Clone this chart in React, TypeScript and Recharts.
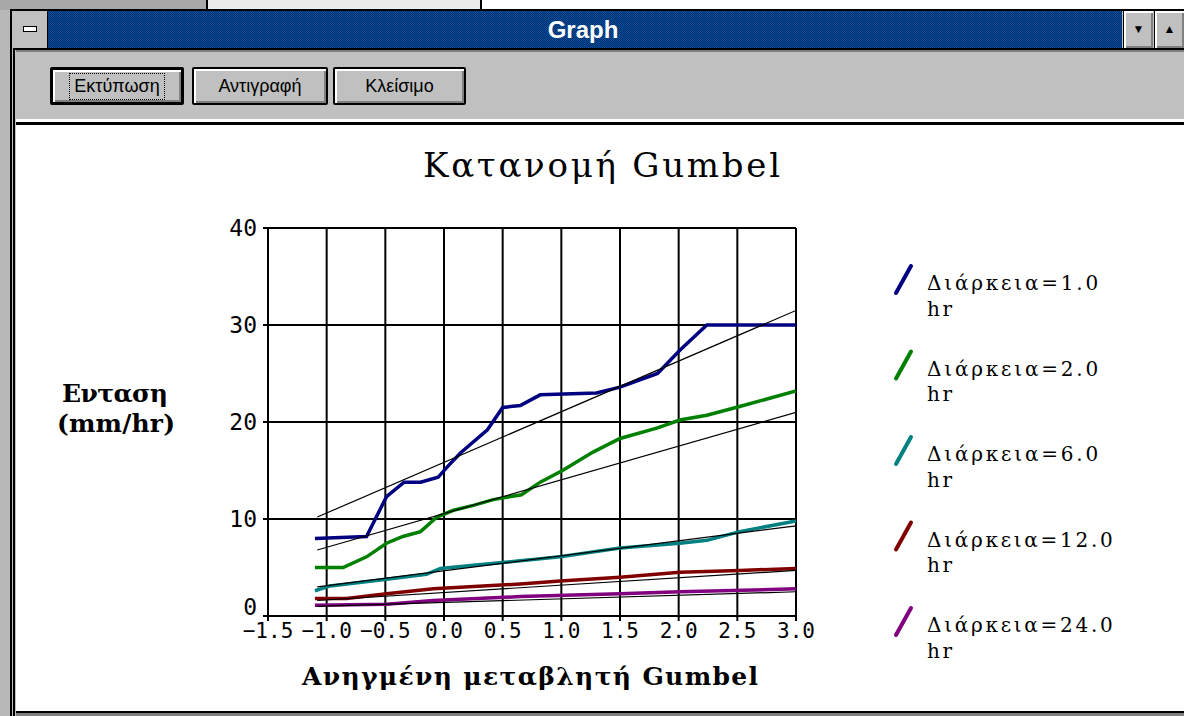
import React from "react";
import { LineChart, Line, XAxis, YAxis, CartesianGrid } from "recharts";

// Gumbel reduced variate (x) vs rainfall intensity in mm/hr (y), one set per duration
const durations = ["1.0", "2.0", "6.0", "12.0", "24.0"];
const colors = ["#000080", "#008000", "#008080", "#800000", "#800080"];

const x1 = [-1.1, -0.66, -0.49, -0.34, -0.2, -0.05, 0.03, 0.14, 0.37, 0.5, 0.65, 0.82, 1.3, 1.5, 1.82, 2.01, 2.24, 3.0];
const y1 = [8.0, 8.2, 12.3, 13.8, 13.8, 14.3, 15.4, 16.8, 19.2, 21.5, 21.7, 22.8, 23.0, 23.6, 25.0, 27.4, 30.0, 30.0];

const x2 = [-1.1, -0.86, -0.66, -0.49, -0.35, -0.2, -0.06, 0.08, 0.25, 0.42, 0.66, 0.82, 1.01, 1.27, 1.5, 1.82, 2.01, 2.24, 2.52, 3.0];
const y2 = [5.0, 5.0, 6.1, 7.5, 8.2, 8.7, 10.2, 10.9, 11.4, 12.0, 12.5, 13.8, 15.0, 16.9, 18.3, 19.4, 20.2, 20.7, 21.6, 23.2];

const x3 = [-1.1, -0.97, -0.49, -0.15, -0.03, 0.65, 0.99, 1.5, 2.01, 2.24, 2.52, 3.0];
const y3 = [2.6, 3.1, 3.8, 4.3, 4.9, 5.7, 6.1, 7.0, 7.5, 7.8, 8.7, 9.8];

const x4 = [-1.1, -0.83, -0.49, -0.09, 0.65, 0.99, 1.5, 2.01, 2.52, 3.0];
const y4 = [1.8, 1.8, 2.3, 2.8, 3.3, 3.6, 4.0, 4.5, 4.7, 4.9];

const x5 = [-1.1, -0.49, -0.09, 0.65, 1.5, 2.01, 3.0];
const y5 = [1.1, 1.2, 1.6, 2.0, 2.3, 2.5, 2.8];

// fitted straight lines (start / end)
const fitX = [-1.08, 3.0];
const fitY1 = [10.2, 31.5];
const fitY2 = [6.8, 21.0];
const fitY3 = [3.0, 9.3];
const fitY4 = [1.6, 4.7];
const fitY5 = [1.0, 2.5];

const xTicks = [-1.5, -1.0, -0.5, 0.0, 0.5, 1.0, 1.5, 2.0, 2.5, 3.0];
const yTicks = [0, 10, 20, 30, 40];

const toPoints = (xs: number[], ys: number[]) => xs.map((x, i) => ({ x, y: ys[i] }));

const series = [
  toPoints(x1, y1),
  toPoints(x2, y2),
  toPoints(x3, y3),
  toPoints(x4, y4),
  toPoints(x5, y5),
];
const fits = [fitY1, fitY2, fitY3, fitY4, fitY5].map((ys) => toPoints(fitX, ys));

const fmtX = (v: number) => (v < 0 ? "\u2212" : "") + Math.abs(v).toFixed(1);

const serif = "'DejaVu Serif', 'Liberation Serif', serif";
const sansMono = "'DejaVu Sans Mono', monospace";
const ui = "'Liberation Sans', Arial, sans-serif";

// y tick; the "0" sits a bit higher so it clears the x labels
const YTick = (props: any) => {
  const { x, y, payload } = props;
  const lift = payload.value === 0 ? -9 : 0;
  return (
    <text x={x} y={y + lift} textAnchor="end" dominantBaseline="central" fill="#000" fontFamily={sansMono} fontSize={23}>
      {payload.value}
    </text>
  );
};

function Button({ left, width, label, isDefault }: { left: number; width: number; label: string; isDefault?: boolean }) {
  return (
    <div
      style={{
        position: "absolute",
        left,
        top: 67,
        width,
        height: 38,
        boxSizing: "border-box",
        border: isDefault ? "3px solid #000" : "2px solid #000",
        borderRadius: 2,
        background: "#c0c0c0",
        boxShadow: "inset 2px 2px 0 #fff, inset -2px -2px 0 #808080",
        display: "flex",
        alignItems: "center",
        justifyContent: "center",
        fontFamily: ui,
        fontSize: 18,
        color: "#000",
      }}
    >
      <span style={isDefault ? { outline: "1px dotted #000", outlineOffset: 2, padding: "0 2px" } : undefined}>{label}</span>
    </div>
  );
}

export default function App() {
  return (
    <div
      style={{
        position: "fixed",
        left: 0,
        top: 0,
        width: 1184,
        height: 716,
        overflow: "hidden",
        background: "#fff",
      }}
    >
      {/* background windows peeking out */}
      <div style={{ position: "absolute", left: 0, top: 0, width: 206, height: 10, background: "#a8a8a8" }} />
      <div style={{ position: "absolute", left: 206, top: 0, width: 272, height: 10, background: "#ececec", borderLeft: "2px solid #000", borderRight: "2px solid #000" }} />
      <div style={{ position: "absolute", left: 0, top: 10, width: 10, height: 706, background: "#b8b8b8", borderRight: "1px solid #000" }} />

      {/* window frame */}
      <div style={{ position: "absolute", left: 10, top: 9, width: 1174, height: 707, background: "#c0c0c0", borderTop: "2px solid #000", borderLeft: "2px solid #000", boxSizing: "border-box" }} />

      {/* title bar */}
      <div style={{ position: "absolute", left: 13, top: 11, width: 34, height: 37, background: "#c0c0c0", borderRight: "1px solid #000" }}>
        <div style={{ position: "absolute", left: 10, top: 15, width: 12, height: 4, background: "#fff", border: "1px solid #000" }} />
      </div>
      <div
        style={{
          position: "absolute",
          left: 48,
          top: 11,
          width: 1074,
          height: 37,
          background: "repeating-conic-gradient(#002c70 0 25%, #08509a 0 50%) 0 0 / 2px 2px",
          color: "#fff",
          fontFamily: ui,
          fontWeight: "bold",
          fontSize: 24,
          lineHeight: "37px",
          textAlign: "center",
        }}
      >
        <span style={{ position: "relative", left: -2 }}>Graph</span>
      </div>
      {[1123, 1154].map((left, i) => (
        <div
          key={left}
          style={{
            position: "absolute",
            left,
            top: 11,
            width: 30,
            height: 37,
            boxSizing: "border-box",
            background: "#c0c0c0",
            borderLeft: "1px solid #000",
            boxShadow: "inset 2px 2px 0 #fff, inset -2px -2px 0 #808080",
            display: "flex",
            alignItems: "center",
            justifyContent: "center",
            fontSize: 12,
            color: "#000",
          }}
        >
          {i === 0 ? "\u25BC" : "\u25B2"}
        </div>
      ))}
      <div style={{ position: "absolute", left: 13, top: 48, width: 1171, height: 2, background: "#000" }} />

      {/* toolbar */}
      <div style={{ position: "absolute", left: 16, top: 50, width: 1168, height: 72, background: "#c0c0c0", borderTop: "2px solid #808080", borderBottom: "3px solid #fff", boxSizing: "border-box" }} />
      <div style={{ position: "absolute", left: 13, top: 50, width: 2, height: 666, background: "#000" }} />
      <Button left={50} width={134} label="Εκτύπωση" isDefault />
      <Button left={192} width={136} label="Αντιγραφή" />
      <Button left={333} width={133} label="Κλείσιμο" />
      <div style={{ position: "absolute", left: 16, top: 122, width: 1168, height: 3, background: "#000" }} />

      {/* client area */}
      <div style={{ position: "absolute", left: 16, top: 125, width: 1168, height: 586, background: "#fff" }} />
      <div style={{ position: "absolute", left: 16, top: 711, width: 1168, height: 2, background: "#000" }} />
      <div style={{ position: "absolute", left: 16, top: 713, width: 1168, height: 3, background: "#808080" }} />

      {/* chart */}
      <div style={{ position: "absolute", left: 0, top: 0 }}>
        <LineChart width={1184} height={716} margin={{ top: 228, right: 388, bottom: 60, left: 0 }}>
          <CartesianGrid stroke="#000" strokeWidth={2} />
          <XAxis
            dataKey="x"
            type="number"
            domain={[-1.5, 3]}
            ticks={xTicks}
            tickFormatter={fmtX}
            allowDataOverflow
            height={40}
            stroke="#000"
            strokeWidth={2}
            tickSize={5}
            tickMargin={2}
            tick={{ fill: "#000", fontFamily: sansMono, fontSize: 21 }}
          />
          <YAxis
            dataKey="y"
            type="number"
            domain={[0, 40]}
            ticks={yTicks}
            width={268}
            stroke="#000"
            strokeWidth={2}
            tickSize={5}
            tickMargin={6}
            tick={<YTick />}
          />
          {series.map((d, i) => (
            <Line
              key={"s" + i}
              data={d}
              dataKey="y"
              name={"Διάρκεια=" + durations[i] + " hr"}
              stroke={colors[i]}
              strokeWidth={3.5}
              dot={false}
              type="linear"
              isAnimationActive={false}
            />
          ))}
          {fits.map((d, i) => (
            <Line
              key={"f" + i}
              data={d}
              dataKey="y"
              stroke="#000"
              strokeWidth={1.2}
              dot={false}
              type="linear"
              legendType="none"
              isAnimationActive={false}
            />
          ))}
        </LineChart>
      </div>

      {/* titles and legend */}
      <svg width={1184} height={716} style={{ position: "absolute", left: 0, top: 0, pointerEvents: "none" }}>
        <text x={423} y={177} textLength={357} lengthAdjust="spacing" fontFamily={serif} fontSize={34} fill="#000">
          Κατανομή Gumbel
        </text>
        <text x={62} y={402} textLength={106} lengthAdjust="spacing" fontFamily={serif} fontWeight="bold" fontSize={25} fill="#000">
          Ενταση
        </text>
        <text x={57} y={432} textLength={118} lengthAdjust="spacing" fontFamily={serif} fontWeight="bold" fontSize={25} fill="#000">
          (mm/hr)
        </text>
        <text x={302} y={685} textLength={456} lengthAdjust="spacing" fontFamily={serif} fontWeight="bold" fontSize={25} fill="#000">
          Ανηγμένη μεταβλητή Gumbel
        </text>
        {durations.map((d, i) => {
          const base = 290 + i * 85.5;
          const label = "Διάρκεια=" + d;
          return (
            <g key={d}>
              <line x1={896} y1={base + 3} x2={911} y2={base - 24} stroke={colors[i]} strokeWidth={4} strokeLinecap="round" />
              <text x={927} y={base} textLength={label.length * 14.6 - 4} lengthAdjust="spacing" fontFamily={serif} fontSize={20} fill="#000">
                {label}
              </text>
              <text x={927} y={base + 25.5} textLength={25} lengthAdjust="spacing" fontFamily={serif} fontSize={20} fill="#000">
                hr
              </text>
            </g>
          );
        })}
      </svg>
    </div>
  );
}
